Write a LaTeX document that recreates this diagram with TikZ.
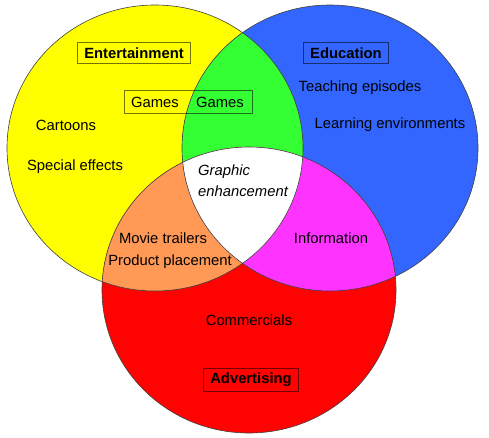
\documentclass[tikz,border=0pt]{standalone}
\usepackage{fontspec}
\setmainfont{Liberation Sans}
\definecolor{cyel}{HTML}{FFFF00}
\definecolor{cblu}{HTML}{3366FF}
\definecolor{cred}{HTML}{FF0303}
\definecolor{cgrn}{HTML}{33FF33}
\definecolor{corg}{HTML}{FF9955}
\definecolor{cmag}{HTML}{FF33FF}
\begin{document}
\begin{tikzpicture}[x=1pt,y=-1pt,
  lbl/.style={font=\fontsize{14.8}{17}\selectfont, inner sep=0pt},
  ttl/.style={font=\fontsize{14.8}{17}\selectfont\bfseries, draw=black, draw opacity=0.55, line width=1pt, inner xsep=7pt, inner ysep=5pt},
  outline/.style={draw=black!75, line width=0.6pt}]
\useasboundingbox[fill=white] (0,0) rectangle (489,437);
% base fills
\fill[cyel] (155,148) ellipse [x radius=148pt, y radius=143pt];
\fill[cblu] (330,148) ellipse [x radius=148pt, y radius=143pt];
\fill[cred] (249,290) ellipse [x radius=147pt, y radius=143pt];
% pairwise overlaps
\begin{scope}
  \clip (155,148) ellipse [x radius=148pt, y radius=143pt];
  \fill[cgrn] (330,148) ellipse [x radius=148pt, y radius=143pt];
  \fill[corg] (249,290) ellipse [x radius=147pt, y radius=143pt];
\end{scope}
\begin{scope}
  \clip (330,148) ellipse [x radius=148pt, y radius=143pt];
  \fill[cmag] (249,290) ellipse [x radius=147pt, y radius=143pt];
\end{scope}
\begin{scope}
  \clip (155,148) ellipse [x radius=148pt, y radius=143pt];
  \clip (330,148) ellipse [x radius=148pt, y radius=143pt];
  \fill[white] (249,290) ellipse [x radius=147pt, y radius=143pt];
\end{scope}
% outlines
\draw[outline] (155,148) ellipse [x radius=148pt, y radius=143pt];
\draw[outline] (330,148) ellipse [x radius=148pt, y radius=143pt];
\draw[outline] (249,290) ellipse [x radius=147pt, y radius=143pt];
% titles
\node[ttl] (ent) at (134,53) {Entertainment};
\node[ttl] (edu) at (346,53) {Education};
\node[ttl] (adv) at (251,380) {Advertising};
% games box
\draw[draw=black, draw opacity=0.55, line width=1pt] (124,90) rectangle (252,113);
\node[lbl] (g1) at (155,102) {Games};
\node[lbl] (g2) at (220,102) {Games};
% labels
\node[lbl] (cart) at (66,125) {Cartoons};
\node[lbl] (spec) at (75,167) {Special effects};
\node[lbl, anchor=west, font=\fontsize{14.8}{17}\selectfont\itshape] (gr1) at (198,172) {Graphic};
\node[lbl, anchor=west, font=\fontsize{14.8}{17}\selectfont\itshape] (gr2) at (198,191) {enhancement};
\node[lbl] (teach) at (360,88) {Teaching episodes};
\node[lbl] (learn) at (390,125) {Learning environments};
\node[lbl] (info) at (331,238) {Information};
\node[lbl] (movie) at (163,238) {Movie trailers};
\node[lbl] (prod) at (170,262) {Product placement};
\node[lbl] (comm) at (249,320) {Commercials};
\end{tikzpicture}
\end{document}
